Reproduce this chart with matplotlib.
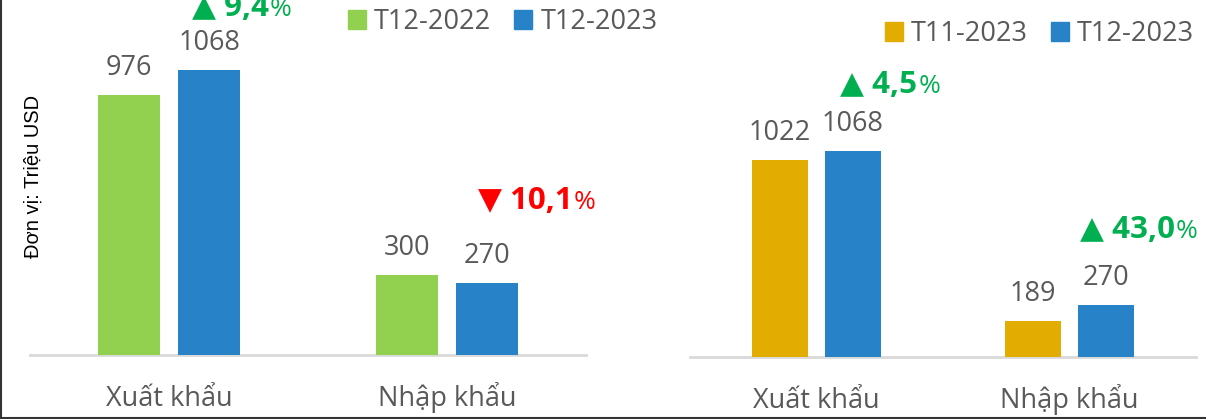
import matplotlib
matplotlib.use("Agg")
import matplotlib.pyplot as plt
from matplotlib.lines import Line2D
from matplotlib.patches import Patch

# ---------------- data ----------------
categories = ["Xuất khẩu", "Nhập khẩu"]

left_series = ["T12-2022", "T12-2023"]
left_prev = [976, 300]
left_curr = [1068, 270]
left_change = ["9,4", "10,1"]
left_up = [True, False]

right_series = ["T11-2023", "T12-2023"]
right_prev = [1022, 189]
right_curr = [1068, 270]
right_change = ["4,5", "43,0"]
right_up = [True, True]

y_label = "Đơn vị: Triệu USD"

# ---------------- style ----------------
W, H = 1206, 419
DPI = 100
GREEN = "#92d050"
BLUE = "#2882c8"
GOLD = "#e2ac00"
TXT = "#595959"
UPC = "#00b050"
DOWNC = "#ff0000"
FONT = ["Open Sans", "DejaVu Sans"]
FS = 19.5
FS_ANN = 22.5

plt.rcParams["font.family"] = FONT

fig = plt.figure(figsize=(W / DPI, H / DPI), dpi=DPI)


def px_ax(x0, x1, ybase, ytop=0):
    return fig.add_axes([x0 / W, (H - ybase) / H, (x1 - x0) / W, (ybase - ytop) / H])


def draw_panel(ax, prev, curr, colors, change, up, ymax, ann_dx, ann_dy):
    ax.set_xlim(-0.5, len(categories) - 0.5)
    ax.set_ylim(0, ymax)
    bw = 0.223
    off = 0.144
    xs = list(range(len(categories)))
    b1 = ax.bar([x - off for x in xs], prev, width=bw, color=colors[0], zorder=2)
    b2 = ax.bar([x + off for x in xs], curr, width=bw, color=colors[1], zorder=2)
    for bars, vals in ((b1, prev), (b2, curr)):
        for rect, v in zip(bars, vals):
            ax.annotate(f"{v}", (rect.get_x() + rect.get_width() / 2, v),
                        xytext=(0, 14.4), textcoords="offset points",
                        ha="center", va="baseline", fontsize=FS, color=TXT,
                        annotation_clip=False)
    for x in xs:
        ax.annotate(categories[x], (x, 0), xytext=(0, -37), textcoords="offset points",
                    ha="center", va="baseline", fontsize=FS, color=TXT,
                    annotation_clip=False)
    anns = []
    for i, x in enumerate(xs):
        col = UPC if up[i] else DOWNC
        sym = "▲" if up[i] else "▼"
        top = max(prev[i], curr[i])
        t = ax.annotate(f"{sym} {change[i]}", (x + ann_dx[i], top),
                        xytext=(0, ann_dy[i]), textcoords="offset points",
                        ha="left", va="center", fontsize=FS_ANN, fontweight="bold",
                        color=col, annotation_clip=False)
        anns.append((t, col))
    for s in ["top", "right", "left"]:
        ax.spines[s].set_visible(False)
    ax.spines["bottom"].set_color("#d9d9d9")
    ax.spines["bottom"].set_linewidth(2)
    ax.spines["bottom"].set_zorder(1)
    ax.set_xticks([])
    ax.set_yticks([])
    ax.patch.set_alpha(0)
    return anns


# left panel: baseline y=355, x 30..586
axL = px_ax(30, 586, 355)
annsL = draw_panel(axL, left_prev, left_curr, [GREEN, BLUE], left_change, left_up,
                   355 / 0.2664, [0.083, 0.113], [45, 53])
# right panel: baseline y=357, x 690..1196
axR = px_ax(690, 1196, 357)
annsR = draw_panel(axR, right_prev, right_curr, [GOLD, BLUE], right_change, right_up,
                   357 / 0.1929, [0.094, 0.040], [47.5, 54])

# legends
for names, cols, x0, yc in ((left_series, [GREEN, BLUE], 348, 22),
                            (right_series, [GOLD, BLUE], 885, 34)):
    handles = [Patch(color=c) for c in cols]
    fig.legend(handles, names, loc="center left", bbox_to_anchor=(x0 / W, 1 - yc / H),
               frameon=False, fontsize=FS, labelcolor=TXT, ncol=2,
               handlelength=0.66, handleheight=0.66, handletextpad=0.3,
               columnspacing=0.85, borderpad=0, borderaxespad=0)

fig.text(33 / W, 1 - 176 / H, y_label, rotation=90, ha="center", va="center",
         fontsize=14.5, color="black", family=["Liberation Sans", "DejaVu Sans"])

# frame lines (left + bottom)
fig.add_artist(Line2D([1 / W, 1 / W], [0, 1], transform=fig.transFigure, color="#333333", lw=1.5))
fig.add_artist(Line2D([0, 1], [1.5 / H, 1.5 / H], transform=fig.transFigure, color="#333333", lw=1.5))

# percent signs after bold numbers
fig.canvas.draw()
r = fig.canvas.get_renderer()
for t, col in annsL + annsR:
    bb = t.get_window_extent(r)
    fig.text((bb.x1 + 1) / W, ((bb.y0 + bb.y1) / 2 - 1.5) / H, "%", ha="left", va="center",
             fontsize=19, color=col, transform=fig.transFigure)

fig.savefig("out.png", dpi=DPI)
